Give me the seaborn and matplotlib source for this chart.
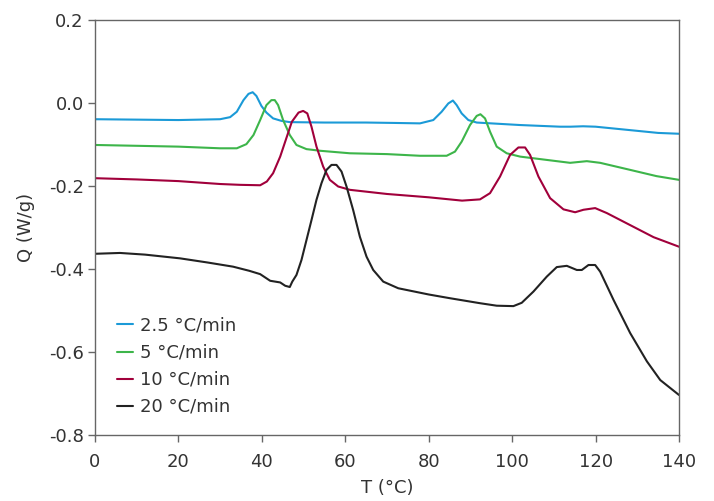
import pandas as pd
import matplotlib
matplotlib.use("Agg")
import matplotlib.pyplot as plt
import seaborn as sns

# heating rate labels and line colours
labels = ["2.5 °C/min", "5 °C/min", "10 °C/min", "20 °C/min"]
colors = ["#1b9ad7", "#3db54a", "#a1003b", "#222222"]

# curves (T in °C, Q in W/g)
t_25 = [0, 10, 20, 30, 32.4, 34.0, 35.6, 36.8, 37.8, 38.7, 39.9, 41.1, 42.7, 44.7, 46.7,
        55, 65, 72, 77.9, 81.1, 83.1, 84.7, 85.8, 86.7, 87.9, 89.5, 91.5, 101.9, 111.5,
        114, 117, 120, 125, 130, 135, 140]
q_25 = [-0.040, -0.041, -0.042, -0.040, -0.035, -0.022, 0.006, 0.021, 0.025, 0.016,
        -0.008, -0.024, -0.038, -0.044, -0.047, -0.048, -0.048, -0.049, -0.050, -0.042,
        -0.022, -0.002, 0.005, -0.006, -0.026, -0.042, -0.048, -0.054, -0.058, -0.058,
        -0.057, -0.058, -0.063, -0.068, -0.073, -0.075]

t_5 = [0, 10, 20, 30, 34, 36.3, 38, 39.6, 41.1, 42.3, 43.1, 43.9, 45.1, 46.7, 48.3,
       50.7, 54, 61.1, 70, 77.9, 84.3, 86.3, 87.9, 89.9, 91.5, 92.4, 93.5, 94.7, 96.3,
       98.7, 101.9, 108.3, 113.9, 117.9, 121.1, 128.3, 134.6, 140]
q_5 = [-0.102, -0.104, -0.106, -0.110, -0.110, -0.100, -0.078, -0.042, -0.006, 0.006,
       0.006, -0.006, -0.042, -0.078, -0.102, -0.112, -0.116, -0.122, -0.124, -0.128,
       -0.128, -0.118, -0.094, -0.054, -0.032, -0.028, -0.038, -0.070, -0.106, -0.122,
       -0.130, -0.138, -0.145, -0.141, -0.145, -0.162, -0.177, -0.186]

t_10 = [0, 10, 20, 30, 34.8, 39.6, 41.2, 42.7, 44.4, 46.0, 47.2, 48.8, 49.9, 50.9, 51.9,
        53.1, 54.7, 56.3, 58.3, 61.1, 70, 80, 88, 92.3, 94.7, 97.1, 99.5, 101.5, 103.1,
        104.3, 106.3, 109.1, 112.3, 115.1, 117.1, 119.9, 122.7, 128.3, 133.9, 140]
q_10 = [-0.182, -0.185, -0.189, -0.196, -0.198, -0.199, -0.190, -0.170, -0.130, -0.082,
        -0.046, -0.024, -0.020, -0.026, -0.058, -0.106, -0.154, -0.186, -0.202, -0.210,
        -0.220, -0.228, -0.236, -0.233, -0.218, -0.178, -0.126, -0.108, -0.108, -0.126,
        -0.178, -0.230, -0.257, -0.264, -0.258, -0.254, -0.266, -0.295, -0.324, -0.347]

t_20 = [0, 6, 12, 20.4, 27, 33.1, 37, 39.6, 42, 44.4, 45.6, 46.7, 47.3, 48.3, 49.5,
        50.7, 51.9, 53.1, 54.3, 55.5, 56.7, 57.9, 59.1, 60.3, 61.9, 63.5, 65.1, 66.7,
        69.1, 72.7, 80, 85.1, 92.3, 96.3, 100.3, 102.3, 105.1, 108.3, 110.7, 113.1, 115.5,
        116.7, 118.3, 119.9, 121.1, 124.3, 128.3, 132.3, 135.5, 140]
q_20 = [-0.364, -0.362, -0.366, -0.375, -0.385, -0.395, -0.405, -0.413, -0.429, -0.433,
        -0.441, -0.444, -0.431, -0.415, -0.379, -0.331, -0.283, -0.234, -0.194, -0.162,
        -0.150, -0.150, -0.166, -0.202, -0.259, -0.323, -0.371, -0.403, -0.431, -0.447,
        -0.462, -0.471, -0.483, -0.489, -0.490, -0.482, -0.455, -0.419, -0.396, -0.393,
        -0.403, -0.403, -0.391, -0.391, -0.407, -0.475, -0.555, -0.623, -0.668, -0.704]

x_ticks = [0, 20, 40, 60, 80, 100, 120, 140]
y_ticks = [-0.8, -0.6, -0.4, -0.2, 0.0, 0.2]

# long-form table for seaborn
frames = []
for lab, t, q in zip(labels, [t_25, t_5, t_10, t_20], [q_25, q_5, q_10, q_20]):
    frames.append(pd.DataFrame({"T": t, "Q": q, "rate": lab}))
df = pd.concat(frames, ignore_index=True)

sns.set_style("white")
plt.rcParams["font.family"] = ["DejaVu Sans"]
plt.rcParams["lines.solid_joinstyle"] = "round"

fig = plt.figure(figsize=(7.14, 5.01), dpi=100)
ax = fig.add_axes([0.133, 0.132, 0.818, 0.829])

sns.lineplot(data=df, x="T", y="Q", hue="rate", hue_order=labels,
             palette=colors, estimator=None, sort=False, linewidth=1.5, ax=ax)

ax.set_xlim(0, 140)
ax.set_ylim(-0.8, 0.2)
ax.set_xticks(x_ticks)
ax.set_yticks(y_ticks)
ax.set_yticklabels([f"{v:.1f}" for v in y_ticks])
ax.tick_params(axis="both", direction="out", length=5, width=1, color="#666666",
               labelsize=13, labelcolor="#333333", left=True, bottom=True)
ax.tick_params(axis="x", pad=8)
ax.tick_params(axis="y", pad=3)
for s in ax.spines.values():
    s.set_color("#666666")
    s.set_linewidth(1)

ax.set_xlabel("T (°C)", fontsize=13, color="#333333", labelpad=6)
ax.set_ylabel("Q (W/g)", fontsize=13, color="#333333", labelpad=10)

leg = ax.legend(loc="center left", bbox_to_anchor=(0.0377, 0.165), frameon=False,
                fontsize=13, handlelength=0.9, handletextpad=0.4, labelspacing=0.5,
                borderpad=0, borderaxespad=0)
for txt in leg.get_texts():
    txt.set_color("#333333")

fig.savefig("out.png", dpi=100)
